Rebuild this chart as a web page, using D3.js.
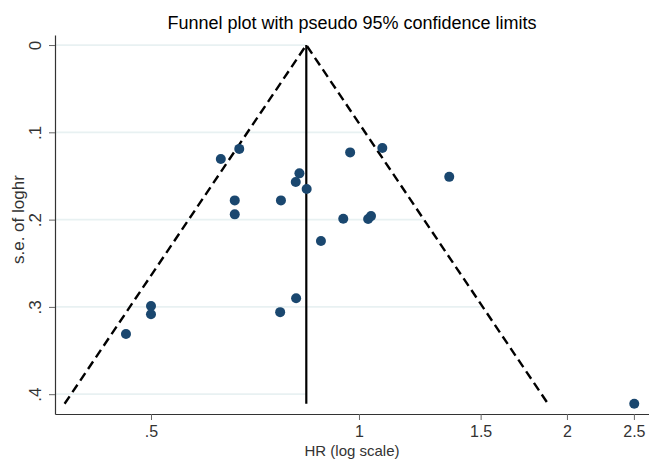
<!DOCTYPE html>
<html>
<head>
<meta charset="utf-8">
<script src="https://cdn.jsdelivr.net/npm/d3@7"></script>
<style>
  body { margin: 0; background: #fff; }
  svg { display: block; font-family: "Liberation Sans", Arial, sans-serif; }
</style>
</head>
<body>
<svg id="chart" width="649" height="459"></svg>
<script>
// ---- data ----
const studyHR = [0.460, 0.500, 0.500, 0.769, 0.811, 0.631, 0.671, 0.661, 0.661, 0.771,
                 0.820, 0.810, 0.840, 0.971, 1.081, 1.351, 0.949, 1.031, 1.041, 0.881, 2.503];
const studySE = [0.331, 0.299, 0.3085, 0.306, 0.290, 0.1306, 0.119, 0.178, 0.194, 0.178,
                 0.147, 0.157, 0.165, 0.123, 0.118, 0.151, 0.199, 0.1993, 0.196, 0.2245, 0.411];
const pooledHR = 0.839;
const xTicks = [0.5, 1, 1.5, 2, 2.5];
const xTickLabels = [".5", "1", "1.5", "2", "2.5"];
const yTicks = [0, 0.1, 0.2, 0.3, 0.4];
const yTickLabels = ["0", ".1", ".2", ".3", ".4"];
const titleText = "Funnel plot with pseudo 95% confidence limits";
const xTitle = "HR (log scale)";
const yTitle = "s.e. of loghr";

// ---- layout ----
const mLeft = 55, mRight = 649, mTop = 35, mBottom = 414;
const svg = d3.select("#chart");

const x = d3.scaleLog().domain([0.3631, 2.629]).range([mLeft, mRight]);
const y = d3.scaleLinear().domain([-0.0115, 0.4227]).range([mTop, mBottom]);

const seMax = d3.max(studySE);
const z = 1.96;
const lo = se => pooledHR * Math.exp(-z * se);
const hi = se => pooledHR * Math.exp(z * se);

// gridlines (end at right funnel limit, as in reference)
svg.append("g").selectAll("line").data(yTicks).join("line")
  .attr("x1", mLeft)
  .attr("x2", d => d < 0.35 ? x(hi(d)) : x(pooledHR))
  .attr("y1", d => y(d)).attr("y2", d => y(d))
  .attr("stroke", "#e8f1f2").attr("stroke-width", 1.8);

// funnel limits
const funnel = d3.line().x(d => x(d[0])).y(d => y(d[1]));
svg.append("path")
  .attr("d", funnel([[lo(seMax), seMax], [pooledHR, 0], [hi(seMax), seMax]]))
  .attr("fill", "none").attr("stroke", "#000").attr("stroke-width", 2.4)
  .attr("stroke-dasharray", "9,5");

// pooled line
svg.append("line")
  .attr("x1", x(pooledHR)).attr("x2", x(pooledHR))
  .attr("y1", y(0)).attr("y2", y(seMax))
  .attr("stroke", "#000").attr("stroke-width", 2.2);

// axes
const xAxis = d3.axisBottom(x).tickValues(xTicks)
  .tickFormat((d, i) => xTickLabels[i]).tickSize(6).tickSizeOuter(0).tickPadding(6);
const gx = svg.append("g").attr("transform", `translate(0,${mBottom})`).call(xAxis);
gx.select(".domain").attr("stroke", "#333").attr("stroke-width", 1.2);
gx.selectAll(".tick line").attr("stroke", "#666");
gx.selectAll(".tick text").attr("font-size", 16).attr("fill", "#333")
  .attr("font-family", "Liberation Sans, Arial, sans-serif");

const yAxis = d3.axisLeft(y).tickValues(yTicks)
  .tickFormat((d, i) => yTickLabels[i]).tickSize(6).tickSizeOuter(0);
const gy = svg.append("g").attr("transform", `translate(${mLeft},0)`).call(yAxis);
gy.select(".domain").attr("stroke", "#333").attr("stroke-width", 1.2);
gy.selectAll(".tick line").attr("stroke", "#666");
gy.selectAll(".tick text")
  .attr("font-size", 17).attr("fill", "#333")
  .attr("font-family", "Liberation Sans, Arial, sans-serif")
  .attr("x", null).attr("dy", null)
  .attr("text-anchor", "middle")
  .attr("transform", "translate(-20,0) rotate(-90)")
  .attr("dominant-baseline", "central");

// points
svg.append("g").selectAll("circle").data(studyHR).join("circle")
  .attr("cx", d => x(d))
  .attr("cy", (d, i) => y(studySE[i]))
  .attr("r", 5)
  .attr("fill", "#1a476f");

// titles
svg.append("text").attr("x", (mLeft + mRight) / 2).attr("y", 29)
  .attr("text-anchor", "middle").attr("font-size", 18).attr("fill", "#000")
  .text(titleText);
svg.append("text").attr("x", (mLeft + mRight) / 2).attr("y", 455.5)
  .attr("text-anchor", "middle").attr("font-size", 15).attr("fill", "#333")
  .text(xTitle);
svg.append("text")
  .attr("transform", `translate(24,${y(0.2)}) rotate(-90)`)
  .attr("text-anchor", "middle").attr("font-size", 17).attr("fill", "#333")
  .text(yTitle);
</script>
</body>
</html>
